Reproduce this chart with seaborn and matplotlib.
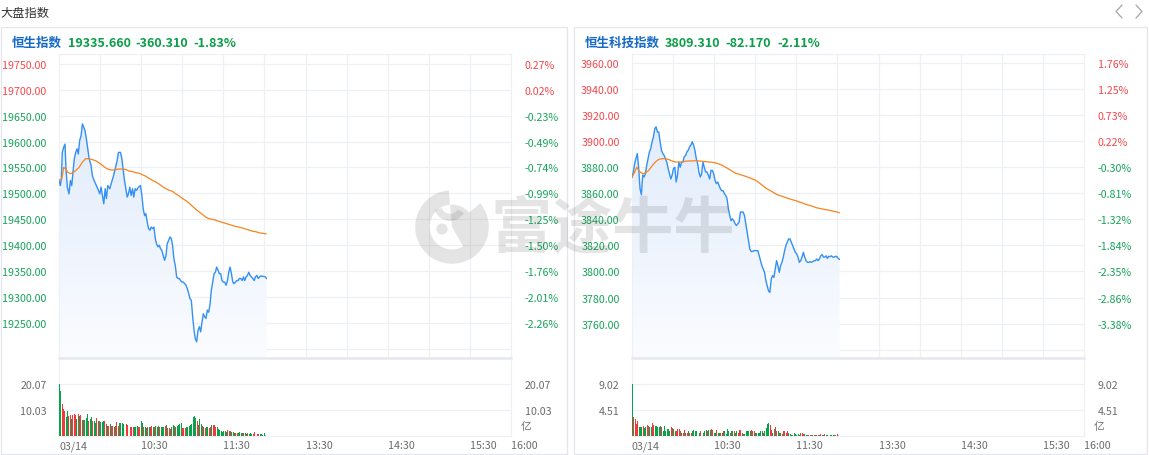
import numpy as np
import pandas as pd
import matplotlib
matplotlib.use("Agg")
import matplotlib.pyplot as plt
import seaborn as sns
from matplotlib.patches import Rectangle, Circle, Wedge
from matplotlib.lines import Line2D
from matplotlib.colors import LinearSegmentedColormap

# ---------------- data ----------------
hsi_name = "恒生指数"
hsi_head = ["19335.660", "-360.310", "-1.83%"]
hst_name = "恒生科技指数"
hst_head = ["3809.310", "-82.170", "-2.11%"]

hsi_time = [0, 1.0, 1.7, 2.4, 3.4, 4.4, 5.1, 6.1, 7.3, 8.3, 9.3, 10.2, 11.2, 12.2, 13.2, 14.1,
            15.1, 16.1, 17.1, 18.0, 19.0, 20.0, 21.0, 22.0, 23.4, 24.4, 25.6, 26.8, 28.3, 29.8,
            30.7, 31.7, 32.7, 33.7, 34.6, 35.6, 37.1, 38.0, 39.5, 41.0, 42.4, 43.4, 44.9, 45.9,
            46.8, 47.8, 48.8, 49.8, 50.7, 51.7, 52.7, 53.7, 54.6, 55.6, 56.6, 58.0, 59.5]
hsi_price = [19526, 19515, 19528, 19579, 19589, 19595, 19547, 19512, 19499, 19525, 19515, 19541,
             19567, 19579, 19586, 19576, 19602, 19611, 19634, 19628, 19621, 19605, 19586, 19567,
             19554, 19534, 19525, 19518, 19509, 19499, 19512, 19496, 19480, 19509, 19490, 19515,
             19509, 19518, 19531, 19547, 19563, 19579, 19579, 19567, 19547, 19525, 19509, 19493,
             19499, 19512, 19496, 19509, 19493, 19509, 19506, 19512, 19515,
             19496, 19470, 19457, 19461, 19445, 19432, 19429, 19435, 19432, 19435, 19413, 19403,
             19397, 19400, 19393, 19390, 19380, 19371, 19380, 19403, 19409, 19416, 19413, 19400,
             19374, 19361, 19339, 19336, 19336, 19332, 19329, 19329, 19326, 19323, 19316, 19307,
             19297, 19294, 19262, 19236, 19220, 19214, 19236, 19243, 19233, 19252, 19268, 19262,
             19259, 19275, 19271, 19287, 19313, 19329, 19345, 19348, 19358, 19352, 19345, 19345,
             19332, 19329, 19329, 19323, 19332, 19348, 19358, 19345, 19329, 19326, 19329, 19332,
             19332, 19336, 19336, 19332, 19339, 19332, 19339, 19342, 19348, 19342, 19339, 19336,
             19332, 19339, 19342, 19336, 19339, 19341, 19340, 19340,
             19339, 19335.66]
hsi_avg_time = [0, 2.0, 3.4, 4.9, 6.3, 8.3, 10.2, 12.2]
hsi_avg = [19525, 19528, 19550, 19547, 19541, 19538, 19540, 19544,
           19550, 19560, 19567, 19567, 19565, 19563, 19559, 19554, 19549, 19546, 19545, 19546,
           19547, 19547, 19546, 19543, 19542, 19540, 19539, 19536, 19533, 19529, 19525, 19522,
           19518, 19513, 19509, 19506, 19504, 19499, 19495, 19490, 19486, 19481, 19475, 19469,
           19464, 19459, 19454, 19451, 19450, 19448, 19446, 19444, 19442, 19440, 19438, 19436,
           19435, 19433, 19431, 19429, 19427, 19426, 19424, 19423, 19422]

hst_price = [3872, 3876.4, 3882.8, 3887, 3890.5, 3879, 3863.5, 3859, 3874, 3872.5,
             3875, 3881.5, 3886.6, 3891.8, 3894.3, 3899.5, 3903.3, 3909.7, 3911, 3907,
             3907, 3899.5, 3893, 3890.5, 3889, 3886.6, 3884, 3879, 3875, 3871,
             3874, 3879, 3880, 3868.7, 3874, 3884, 3880, 3884, 3884, 3888,
             3889, 3891.8, 3893, 3895.6, 3897, 3899.5, 3897, 3893, 3886.6, 3882.8,
             3876.4, 3872.5, 3875, 3884, 3880, 3876.4, 3876.4, 3874, 3871, 3877.6,
             3877.6, 3875, 3870, 3867.4, 3868.7, 3866, 3863.5, 3862, 3862, 3859.7,
             3858.4, 3855.8, 3848, 3843, 3839, 3840.4, 3839, 3836.6, 3835.3, 3836.6,
             3837.9, 3845.6, 3845.6, 3845.6, 3843, 3836.6, 3830, 3823.7, 3817.3, 3815.3,
             3815.3, 3816, 3816, 3816, 3816, 3812, 3808.3, 3804.5, 3802, 3799.3,
             3793, 3789, 3785, 3784, 3794.2, 3796.8, 3795.5, 3802, 3808.3, 3804.5,
             3799.3, 3804.5, 3807, 3811, 3816, 3820, 3822.5, 3825, 3825, 3822.5,
             3820, 3817.3, 3814.7, 3813.5, 3811, 3807, 3808.3, 3811, 3814.7, 3811,
             3808.3, 3807, 3807, 3807.5, 3807, 3807.5, 3808.3, 3808.3, 3809.6, 3808.3,
             3809.6, 3812, 3813, 3811, 3811, 3812, 3810, 3811.7, 3811.4, 3812,
             3811, 3811, 3811.7, 3811.4, 3810, 3809.31]
hst_avg_time = [0, 2.0, 3.4, 4.9, 6.3, 8.3, 10.2, 12.2]
hst_avg = [3872.5, 3876.4, 3880, 3877.6, 3876, 3875, 3876, 3877.6,
           3881, 3884, 3886, 3886.6, 3886.6, 3885.9, 3884.8, 3884, 3884, 3884,
           3884.6, 3884.8, 3884.8, 3885, 3884.8, 3884.6, 3884.3, 3884, 3883.8, 3883.3,
           3882.5, 3881.5, 3880, 3878.5, 3876.8, 3875.4, 3874.6, 3873.8, 3873, 3872,
           3871, 3870, 3868.1, 3866, 3864, 3862.5, 3861, 3859.4, 3858.4, 3857.6,
           3856.6, 3855.8, 3855, 3854.3, 3853.3, 3852.5, 3851.5, 3850.7, 3850, 3849,
           3848.4, 3847.9, 3847.4, 3847, 3846.3, 3845.8, 3845]

hsi_vol = [20.07, 17.5, 12.5, 10.6, 9.6, 7.3, 9.6, 7.6, 8.3, 6.6,
           8.3, 8.6, 8.2, 6.6, 8.6, 7.6, 8.2, 6.3, 6.3, 6.3,
           6.9, 8.5, 6.0, 6.6, 7.3, 6.0, 6.0, 5.1, 7.0, 6.0,
           6.0, 5.3, 5.3, 5.7, 5.7, 4.7, 4.0, 4.0, 4.7, 4.0,
           4.0, 3.6, 4.0, 5.3, 4.0, 5.0, 5.0, 5.0, 4.7, 4.0,
           4.7, 4.4, 4.4, 3.6, 3.6, 3.6, 3.4, 3.6, 4.0, 3.6,
           3.6, 5.7, 5.0, 3.6, 3.4, 3.1, 3.6, 3.6, 3.6, 3.9,
           3.6, 3.4, 3.9, 3.6, 4.0, 3.6, 3.6, 3.6, 3.4, 4.0,
           4.3, 3.1, 3.0, 2.7, 3.6, 4.4, 4.0, 3.6, 4.0, 4.4,
           4.7, 5.0, 3.0, 3.0, 3.0, 3.4, 3.6, 4.0, 4.3, 4.7,
           7.3, 7.7, 7.0, 6.0, 4.3, 6.5, 4.7, 4.0, 3.6, 3.1,
           3.4, 3.4, 3.1, 3.6, 4.4, 4.3, 4.3, 3.4, 3.4, 2.7,
           2.3, 2.1, 1.7, 1.8, 2.1, 1.7, 2.3, 1.8, 1.8, 1.7,
           1.7, 1.2, 1.0, 1.0, 1.0, 1.4, 1.0, 1.0, 1.0, 1.0,
           0.8, 1.3, 0.8, 1.0, 0.8, 0.8, 1.4, 1.0, 0.8, 0.8,
           0.8, 0.8, 0.5, 1.0, 0.4]
hsi_vol_dir = ("GGRRRGGRRG" "RRRGRGRGRG" "GGRGGRGGRG" "RGGGRRGRGR" "RGRRRGGGGG"
               "RRGRRRGGGR" "RGGRGGRGRR" "GRGGGRGGGR" "GRRRGGGRGG" "GGRRRGGGGG"
               "GGGRRGGRGR" "GGRRGRRRGG" "GGGGGGRRRG" "GGRRGGGRGG" "GRGGGRRRRR" "GGGGB")

hst_vol = [9.02, 3.3, 2.9, 2.1, 2.6, 1.5, 1.5, 1.5, 1.7, 1.4,
           1.5, 1.9, 1.7, 1.5, 1.5, 2.2, 1.9, 1.8, 1.7, 1.5,
           1.6, 1.7, 1.5, 0.9, 1.7, 0.9, 1.2, 1.2, 0.9, 1.5,
           1.4, 1.2, 0.9, 0.9, 1.2, 1.2, 0.9, 0.6, 0.6, 1.05,
           0.6, 0.6, 0.9, 0.6, 0.6, 0.8, 1.05, 0.9, 0.8, 0.6,
           0.5, 0.9, 1.05, 0.6, 0.8, 1.05, 0.8, 1.05, 1.05, 1.2,
           1.05, 0.5, 0.6, 1.05, 0.6, 0.5, 0.6, 0.6, 0.8, 0.8,
           0.35, 1.2, 0.9, 0.6, 0.8, 0.9, 0.8, 0.6, 0.8, 0.6,
           1.05, 1.05, 0.6, 0.3, 0.35, 0.8, 0.9, 0.9, 0.9, 1.05,
           0.9, 0.9, 0.6, 0.5, 0.6, 0.5, 0.8, 0.8, 0.6, 0.9,
           1.4, 2.1, 2.2, 2.0, 1.05, 0.5, 1.2, 1.5, 0.8, 0.8,
           0.6, 0.6, 0.35, 0.9, 0.8, 0.6, 0.9, 0.5, 0.35, 0.23,
           0.23, 0.5, 0.35, 0.23, 0.3, 0.23, 0.6, 0.5, 0.35, 0.35,
           0.23, 0.18, 0.18, 0.23, 0.18, 0.23, 0.23, 0.18, 0.23, 0.18,
           0.23, 0.4, 0.23, 0.23, 0.35, 0.18, 0.18, 0.5, 0.18, 0.18,
           0.23, 0.18, 0.18, 0.35, 0.12]
hst_vol_dir = ("GRRRRGGGRG" "GRRGGRRGGG" "GGRGGGGGGR" "RGGRRRRGRR" "GRGRRGGGGR"
               "GRRGGGRGGR" "RGGRGGRGRG" "GGGRGGRGGR" "RRGRGGGGGR" "RRGGGGGGRG"
               "GGGRRGGRRG" "GRGRRRRGGG" "RGGGGGRRRG" "GGRRGRRGRG" "RRGGRGGRGG" "GRGRB")

hsi_ticks = [19750, 19700, 19650, 19600, 19550, 19500, 19450, 19400, 19350, 19300, 19250]
hsi_pct = ["0.27%", "0.02%", "-0.23%", "-0.49%", "-0.74%", "-0.99%", "-1.25%", "-1.50%",
           "-1.76%", "-2.01%", "-2.26%"]
hst_ticks = [3960, 3940, 3920, 3900, 3880, 3860, 3840, 3820, 3800, 3780, 3760]
hst_pct = ["1.76%", "1.25%", "0.73%", "0.22%", "-0.30%", "-0.81%", "-1.32%", "-1.84%",
           "-2.35%", "-2.86%", "-3.38%"]
hsi_vol_ticks = [20.07, 10.03]
hst_vol_ticks = [9.02, 4.51]
time_labels = ["03/14", "10:30", "11:30", "13:30", "14:30", "15:30", "16:00"]
time_ticks = [0, 60, 120, 180, 240, 300, 330]

# ---------------- style ----------------
sns.set_theme(style="white")
plt.rcParams["font.family"] = ["Noto Sans CJK SC", "DejaVu Sans"]

W, H = 1149, 456
fig = plt.figure(figsize=(W / 100, H / 100), dpi=100)
fig.patch.set_facecolor("white")

RED = "#f4474c"
GREEN = "#17a35a"
GRID = "#eef0f5"
BORDER = "#e3e6ec"
GRAY = "#6c6c6c"
BLUE = "#3390f5"
ORANGE = "#f7841e"
WM = "#333333"
WM_ALPHA = 0.13
FS = 7.7


def rect(x0, y0, x1, y1):
    return [x0 / W, 1 - y1 / H, (x1 - x0) / W, (y1 - y0) / H]


def fx(x):
    return x / W


def fy(y):
    return 1 - y / H


def draw_panel(px0, name, head, t, price, avg_t, avg, ticks, pct, ylim, grid_vals,
               vol, vol_dir, vol_ticks, vol_top, hx):
    px1 = px0 + 452
    ax = fig.add_axes(rect(px0, 55, px1, 359))
    ax.set_facecolor("none")
    poly = ax.fill_between(t, price, ylim[0], color="none", lw=0)
    cmap = LinearSegmentedColormap.from_list("g", ["#fbfcff", "#d9e7fb"])
    grad = np.linspace(0, 1, 256).reshape(-1, 1)
    im = ax.imshow(grad, extent=[t[0], t[-1], ylim[0], ylim[1]], origin="lower",
                   cmap=cmap, aspect="auto", zorder=1)
    im.set_clip_path(poly.get_paths()[0], transform=ax.transData)
    df = pd.DataFrame({"t": t, "p": price})
    da = pd.DataFrame({"t": avg_t, "a": avg})
    sns.lineplot(data=df, x="t", y="p", ax=ax, color=BLUE, lw=1.0, estimator=None,
                 sort=False, zorder=4)
    sns.lineplot(data=da, x="t", y="a", ax=ax, color=ORANGE, lw=0.9, estimator=None,
                 sort=False, zorder=4)
    for g in grid_vals:
        ax.axhline(g, color=GRID, lw=0.9, zorder=0)
    for v in range(30, 330, 30):
        ax.axvline(v, color=GRID, lw=0.9, zorder=0)
    ax.set_xlim(0, 330)
    ax.set_ylim(*ylim)
    ax.set_xlabel("")
    ax.set_ylabel("")
    ax.set_xticks([])
    ax.set_yticks(ticks)
    ax.set_yticklabels(["%.2f" % v for v in ticks])
    ax.tick_params(axis="y", length=0, pad=9, labelsize=FS)
    for lab, p in zip(ax.get_yticklabels(), pct):
        lab.set_color(GREEN if p.startswith("-") else RED)
    for s in ["left", "right", "top"]:
        ax.spines[s].set_color(GRID)
        ax.spines[s].set_linewidth(0.9)
    ax.spines["bottom"].set_color("#e5e8ee")
    ax.spines["bottom"].set_linewidth(1.8)
    ax2 = ax.twinx()
    ax2.set_ylim(*ylim)
    ax2.set_yticks(ticks)
    ax2.set_yticklabels(pct)
    ax2.tick_params(axis="y", length=0, pad=10, labelsize=FS)
    for lab, p in zip(ax2.get_yticklabels(), pct):
        lab.set_color(GREEN if p.startswith("-") else RED)
    for s in ax2.spines.values():
        s.set_visible(False)

    # volume
    axv = fig.add_axes(rect(px0, 361, px1, 437))
    n = len(vol)
    xs = np.linspace(0, 150.3, n)
    cols = [{"R": "#f03a3a", "G": "#0aa14b", "B": "#a9c3ea"}[c] for c in vol_dir]
    axv.bar(xs, vol, width=0.72, align="edge", color=cols, lw=0, zorder=3)
    for g in vol_ticks:
        axv.axhline(g, color=GRID, lw=0.9, zorder=0)
    axv.set_xlim(0, 330)
    axv.set_ylim(0, vol_top)
    axv.set_yticks(vol_ticks)
    axv.set_yticklabels(["%.2f" % v for v in vol_ticks])
    axv.tick_params(axis="y", length=0, pad=9, labelsize=FS, labelcolor=GRAY)
    axv.set_xticks(time_ticks)
    axv.set_xticklabels(time_labels)
    axv.tick_params(axis="x", length=0, pad=3, labelsize=FS, labelcolor=GRAY)
    for lab in axv.get_xticklabels():
        lab.set_horizontalalignment("left")
    for s in axv.spines.values():
        s.set_color(GRID)
        s.set_linewidth(0.9)
    axv.spines["top"].set_visible(False)
    axv2 = axv.twinx()
    axv2.set_ylim(0, vol_top)
    axv2.set_yticks(vol_ticks)
    axv2.set_yticklabels(["%.2f" % v for v in vol_ticks])
    axv2.tick_params(axis="y", length=0, pad=10, labelsize=FS, labelcolor=GRAY)
    for s in axv2.spines.values():
        s.set_visible(False)
    fig.text(fx(px1 + 10), fy(427), "亿", fontsize=FS, color=GRAY, va="center", ha="left")

    fig.text(fx(hx[0]), fy(43.5), name, fontsize=9, color="#1569c7", fontweight="bold",
             va="center", ha="left")
    for xx, s in zip(hx[1:], head):
        fig.text(fx(xx), fy(43.5), s, fontsize=9, color="#0a9e48", fontweight="bold",
                 va="center", ha="left")


for bx0, bx1 in [(1, 567), (574, 1147)]:
    fig.patches.append(Rectangle((fx(bx0), fy(455)), (bx1 - bx0) / W, (455 - 28) / H,
                                 transform=fig.transFigure, fill=False, ec=BORDER, lw=0.9))

draw_panel(59, hsi_name, hsi_head, hsi_time + list(np.round(np.linspace(60.5, 149.3, 92), 1)) + [150.7, 151.5],
           hsi_price, hsi_avg_time + list(np.round(np.linspace(14.6, 151.2, 57), 1)), hsi_avg,
           hsi_ticks, hsi_pct, (19182.7, 19768.7), list(range(19200, 19751, 50)),
           hsi_vol, hsi_vol_dir, hsi_vol_ticks, 29.6, [12, 68, 135, 193])

draw_panel(632, hst_name, hst_head, list(np.linspace(0, 151.5, len(hst_price))), hst_price,
           hst_avg_time + list(np.round(np.linspace(14.6, 151.5, len(hst_avg) - 8), 1)), hst_avg,
           hst_ticks, hst_pct, (3733.6, 3966.9), list(range(3740, 3961, 20)),
           hst_vol, hst_vol_dir, hst_vol_ticks, 13.3, [585, 665, 725, 777])

fig.text(fx(0), fy(13), "大盘指数", fontsize=8.8, color="#333333", va="center", ha="left")
for pts in [[(1122, 6), (1116, 12.5), (1122, 19)], [(1136, 6), (1142, 12.5), (1136, 19)]]:
    fig.lines.append(Line2D([fx(p[0]) for p in pts], [fy(p[1]) for p in pts],
                            transform=fig.transFigure, color="#a5a5a5", lw=0.9))

# watermark: logo (square inset axes) + text
axl = fig.add_axes(rect(412, 188, 492, 268))
axl.set_xlim(-1, 1)
axl.set_ylim(-1, 1)
axl.axis("off")
axl.patch.set_alpha(0)
axl.add_patch(Wedge((0, 0), 0.92, 95, 400, width=0.36, fc=WM, alpha=WM_ALPHA, ec="none"))
axl.add_patch(Wedge((0, 0), 0.56, -60, 95, fc=WM, alpha=WM_ALPHA, ec="none"))
axl.add_patch(Wedge((-0.05, 0.55), 0.40, 200, 330, width=0.18, fc=WM, alpha=WM_ALPHA, ec="none"))
axl.add_patch(Circle((-0.25, -0.05), 0.14, fc=WM, alpha=WM_ALPHA, ec="none"))
fig.text(fx(613), fy(230), "富途牛牛", fontsize=44, color=WM, alpha=WM_ALPHA,
         va="center", ha="center", fontweight="bold")

fig.savefig("out.png", dpi=100, facecolor="white")
